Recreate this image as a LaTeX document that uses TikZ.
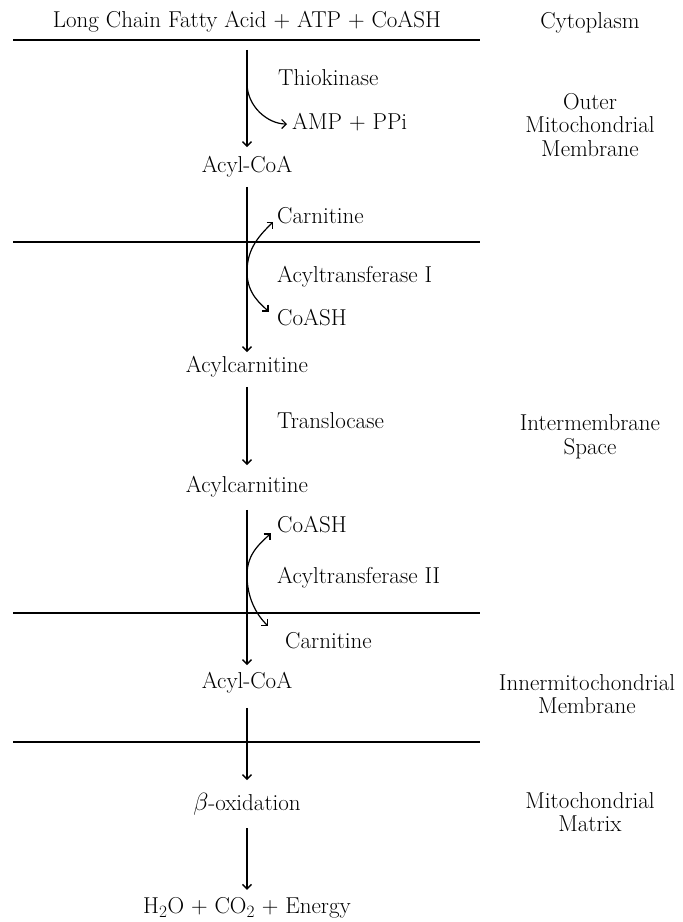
\documentclass[tikz,border=0pt]{standalone}
\usetikzlibrary{arrows.meta}

\begin{document}
\begin{tikzpicture}[x=1pt, y=1pt,
  >={Straight Barb[length=4.5pt,width=9pt]},
  every node/.style = {font=\fontsize{23}{23.5}\selectfont, inner sep=0pt},
  stage/.style = {text height=16pt, text depth=4.5pt},
  enzyme/.style = {stage, anchor=west},
  region/.style = {align=center},
  flow/.style = {->, line width=1.3pt},
  side/.style = {->, line width=1.2pt},
  membrane/.style = {line width=1.6pt},
  ]
  \useasboundingbox (0,0) rectangle (683,-922);

  % membranes
  \foreach \y in {40,242,613,742}
    \draw[membrane] (13,-\y) -- (480,-\y);

  % main chain
  \node[stage] (fatty) at (247,-22) {Long Chain Fatty Acid + ATP + CoASH};
  \node[stage] (acoa1) at (247,-167) {Acyl-CoA};
  \node[stage] (acar1) at (247,-367) {Acylcarnitine};
  \node[stage] (acar2) at (247,-487) {Acylcarnitine};
  \node[stage] (acoa2) at (247,-683) {Acyl-CoA};
  \node[stage] (betaox) at (247,-805) {$\beta$-oxidation};
  \node[stage] (water) at (247,-908) {H$_2$O + CO$_2$ + Energy};

  \draw[flow, shorten <=17.5pt, shorten >=9.5pt] (fatty) -- (acoa1);
  \draw[flow, shorten <=9.5pt, shorten >=4.5pt] (acoa1) -- (acar1);
  \draw[flow, shorten <=9.5pt, shorten >=11.5pt] (acar1) -- (acar2);
  \draw[flow, shorten <=12.5pt, shorten >=7.5pt] (acar2) -- (acoa2);
  \draw[flow, shorten <=14.5pt, shorten >=14.5pt] (acoa2) -- (betaox);
  \draw[flow, shorten <=12.75pt, shorten >=7.75pt] (betaox) -- (water);

  % enzymes and side products
  \node[enzyme] (thio) at (278,-80) {Thiokinase};
  \node[enzyme] (amp) at (292,-124) {AMP + PPi};
  \node[enzyme] (carn1) at (277,-218) {Carnitine};
  \node[enzyme] (atr1) at (277,-277) {Acyltransferase I};
  \node[enzyme] (coash1) at (277,-320) {CoASH};
  \node[enzyme] (transl) at (277,-423) {Translocase};
  \node[enzyme] (coash2) at (277,-527) {CoASH};
  \node[enzyme] (atr2) at (277,-578) {Acyltransferase II};
  \node[enzyme] (carn2) at (285,-643) {Carnitine};

  \coordinate (kin) at (247,-83);
  \coordinate (atI) at (247,-272);
  \coordinate (atII) at (247,-575);

  \draw[side, shorten >=5pt] (kin) to[out=-90, in=180] (amp.west);
  \draw[side, shorten >=5pt] (atI) to[out=90, in=-135] (carn1.west);
  \draw[side, shorten >=12pt] (atI) to[out=-90, in=135] (coash1.west);
  \draw[side, shorten >=9pt] (atII) to[out=90, in=-135] (coash2.west);
  \draw[side, shorten >=24pt] (atII) to[out=-90, in=135] (carn2.west);

  % compartments
  \node (cyto) at (590,-23) {Cytoplasm};
  \node[region] (outer) at (590,-125) {Outer\\Mitochondrial\\Membrane};
  \node[region] (inter) at (590,-437) {Intermembrane\\Space};
  \node[region] (inner) at (587,-694) {Innermitochondrial\\Membrane};
  \node[region] (matrix) at (590,-812) {Mitochondrial\\Matrix};
\end{tikzpicture}
\end{document}
